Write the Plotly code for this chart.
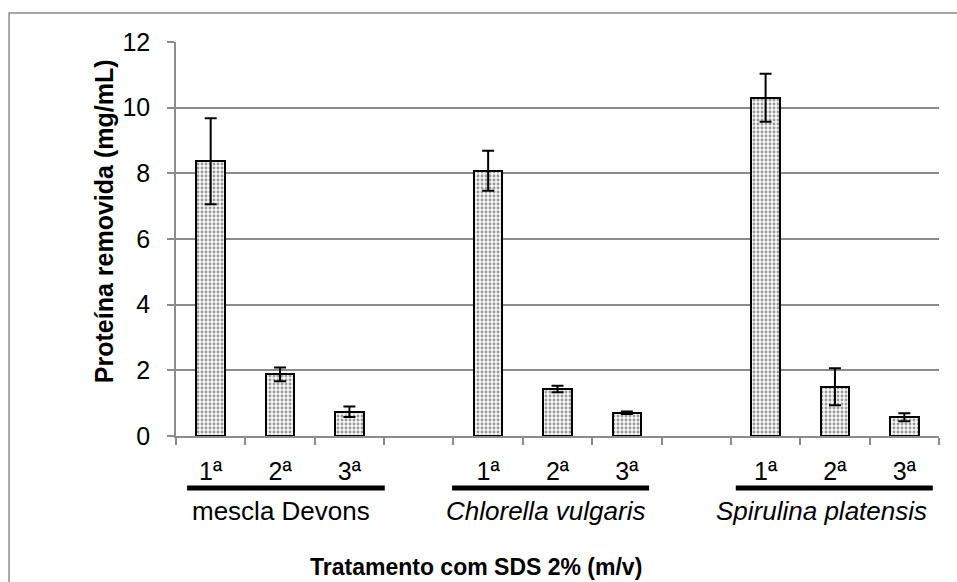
import plotly.graph_objects as go

groups = ["mescla Devons", "<i>Chlorella vulgaris</i>", "<i>Spirulina platensis</i>"]
rounds = ["1ª", "2ª", "3ª"]
values = {
    "mescla Devons": [8.37, 1.88, 0.74],
    "Chlorella vulgaris": [8.08, 1.43, 0.71],
    "Spirulina platensis": [10.30, 1.50, 0.57],
}
errors = {
    "mescla Devons": [1.31, 0.21, 0.16],
    "Chlorella vulgaris": [0.61, 0.10, 0.04],
    "Spirulina platensis": [0.73, 0.56, 0.12],
}
y_ticks = [0, 2, 4, 6, 8, 10, 12]

FONT = "Liberation Sans, Arial, sans-serif"
slot = len(rounds) + 1  # one empty category between groups

xs, ys, es, labels = [], [], [], []
for gi, g in enumerate(values):
    for ri, r in enumerate(rounds):
        xs.append(gi * slot + ri)
        ys.append(values[g][ri])
        es.append(errors[g][ri])
        labels.append(r)

fig = go.Figure()
fig.add_trace(go.Bar(
    x=xs, y=ys, width=0.41,
    marker=dict(
        color="#ffffff",
        line=dict(color="#000000", width=2),
        pattern=dict(shape=".", fgcolor="#3a3a3a", bgcolor="#f8f8f8", size=4, solidity=0.4),
    ),
    error_y=dict(type="data", array=es, visible=True, color="#000000", thickness=2, width=6),
    showlegend=False,
))

n_slots = len(values) * slot - 1
fig.update_xaxes(
    range=[-0.5, n_slots - 0.5],
    tickmode="array", tickvals=xs, ticktext=labels,
    ticks="", ticklabelstandoff=12,
    tickfont=dict(family=FONT, size=25, color="#000000"),
    showline=True, linecolor="#8c8c8c", linewidth=1.5,
    showgrid=False, zeroline=False,
    minor=dict(tickmode="linear", tick0=-0.5, dtick=1, ticks="outside", ticklen=7,
               tickcolor="#8c8c8c", tickwidth=1.5, showgrid=False),
)
fig.update_yaxes(
    range=[0, 12], tickmode="array", tickvals=y_ticks,
    ticks="outside", ticklen=7, tickcolor="#8c8c8c", tickwidth=1.5,
    ticklabelstandoff=12,
    tickfont=dict(family=FONT, size=25, color="#000000"),
    showline=True, linecolor="#8c8c8c", linewidth=1.5,
    showgrid=True, gridcolor="#8c8c8c", gridwidth=1.5, zeroline=False,
)

# group underline bars and labels
under_x = [(-0.34, 2.51), (3.48, 6.32), (7.57, 10.41)]
label_x = [1.02, 4.83, 8.81]
for (x0, x1), lx, g in zip(under_x, label_x, groups):
    fig.add_shape(type="line", xref="x", yref="paper", x0=x0, x1=x1, y0=-0.132, y1=-0.132,
                  line=dict(color="#000000", width=5))
    fig.add_annotation(text=g, xref="x", yref="paper", x=lx, y=-0.19, showarrow=False,
                       font=dict(family=FONT, size=26, color="#000000"), xanchor="center", yanchor="middle")

fig.add_annotation(text="<b>Tratamento com SDS 2% (m/v)</b>", xref="paper", yref="paper",
                   x=0.393, y=-0.332, showarrow=False, xanchor="center", yanchor="middle",
                   font=dict(family=FONT, size=23, color="#000000"))
fig.add_annotation(text="<b>Proteína removida (mg/mL)</b>", xref="paper", yref="paper",
                   x=-0.094, y=0.546, showarrow=False, textangle=-90, xanchor="center", yanchor="middle",
                   font=dict(family=FONT, size=25, color="#000000"))

# chart-area border
fig.add_shape(type="rect", xref="paper", yref="paper", x0=-0.2188, x1=1.2, y0=-0.6, y1=1.0736,
              line=dict(color="#8c8c8c", width=1.5), fillcolor="rgba(0,0,0,0)", layer="below")

fig.update_layout(
    width=957, height=582,
    margin=dict(l=176, r=18, t=42, b=146),
    paper_bgcolor="#ffffff", plot_bgcolor="#ffffff",
    bargap=0,
)
fig.write_html("out.html")
